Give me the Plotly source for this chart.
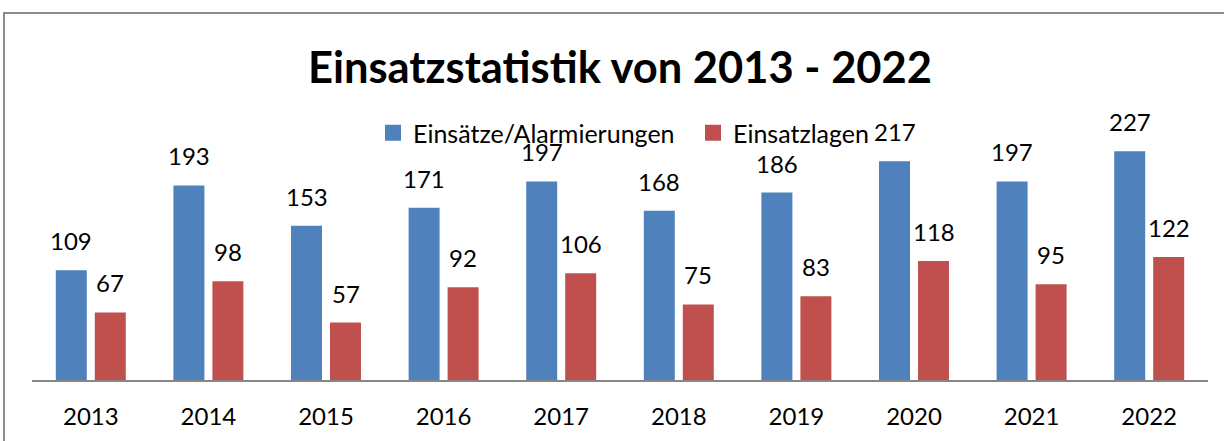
import plotly.graph_objects as go

years = ["2013", "2014", "2015", "2016", "2017", "2018", "2019", "2020", "2021", "2022"]
einsaetze = [109, 193, 153, 171, 197, 168, 186, 217, 197, 227]
einsatzlagen = [67, 98, 57, 92, 106, 75, 83, 118, 95, 122]
series_names = ["Einsätze/Alarmierungen", "Einsatzlagen"]
title_text = "Einsatzstatistik von 2013 - 2022"

W, H = 1224, 441
ML, MR, MT, MB = 32, 16, 128, 61
YMAX = 250
plot_w = W - ML - MR
plot_h = H - MT - MB

FONT = "Lato"
FS = 24
BLUE = "#4F81BD"
RED = "#C0504D"

fig = go.Figure()
for vals, name, col in ((einsaetze, series_names[0], BLUE), (einsatzlagen, series_names[1], RED)):
    fig.add_trace(go.Bar(x=years, y=vals, name=name, showlegend=False,
                         marker=dict(color=col, line=dict(width=0))))
# legend proxies with larger square swatches
for name, col in ((series_names[0], BLUE), (series_names[1], RED)):
    fig.add_trace(go.Scatter(x=[None], y=[None], mode="markers", name=name,
                             marker=dict(symbol="square", size=16, color=col)))

annotations = []
for vals, dx in ((einsaetze, -19.5), (einsatzlagen, 19.5)):
    for i, v in enumerate(vals):
        annotations.append(dict(x=i, y=v, xref="x", yref="y", text=str(v),
                                showarrow=False, xshift=dx, yshift=13,
                                yanchor="bottom", xanchor="center",
                                font=dict(family=FONT, size=FS, color="#000000")))

def px_x(p):
    return (p - ML) / plot_w

def px_y(p):
    return (H - MB - p) / plot_h

fig.update_layout(
    width=W, height=H,
    margin=dict(l=ML, r=MR, t=MT, b=MB, pad=0),
    paper_bgcolor="white", plot_bgcolor="white",
    barmode="group", bargap=0.337, bargroupgap=0.205,
    title=dict(text="<b>" + title_text + "</b>", x=0.5, xref="paper",
               y=1 - 68 / H, yref="container", yanchor="middle", xanchor="center",
               font=dict(family=FONT, size=43.5, color="#000000")),
    legend=dict(orientation="h", x=px_x(373), y=px_y(133), xanchor="left", yanchor="middle",
                xref="paper", yref="paper", entrywidth=275, entrywidthmode="pixels",
                itemsizing="trace", bgcolor="rgba(0,0,0,0)", traceorder="normal",
                font=dict(family=FONT, size=25, color="#000000")),
    xaxis=dict(type="category", range=[-0.5, len(years) - 0.5], showline=True,
               linecolor="#868686", linewidth=2, showgrid=False,
               ticks="", ticklabelstandoff=14, zeroline=False,
               tickfont=dict(family=FONT, size=FS, color="#000000")),
    yaxis=dict(range=[0, YMAX], visible=False, showgrid=False, zeroline=False),
    annotations=annotations,
    shapes=[dict(type="rect", xref="paper", yref="paper",
                 x0=px_x(4), x1=px_x(W + 20), y0=px_y(H + 20), y1=px_y(13),
                 line=dict(color="#8C8C8C", width=2), fillcolor="rgba(0,0,0,0)", layer="below")],
    showlegend=True,
)

fig.write_html("out.html", config={"displayModeBar": False},
               post_script="document.body.style.margin='0';")
